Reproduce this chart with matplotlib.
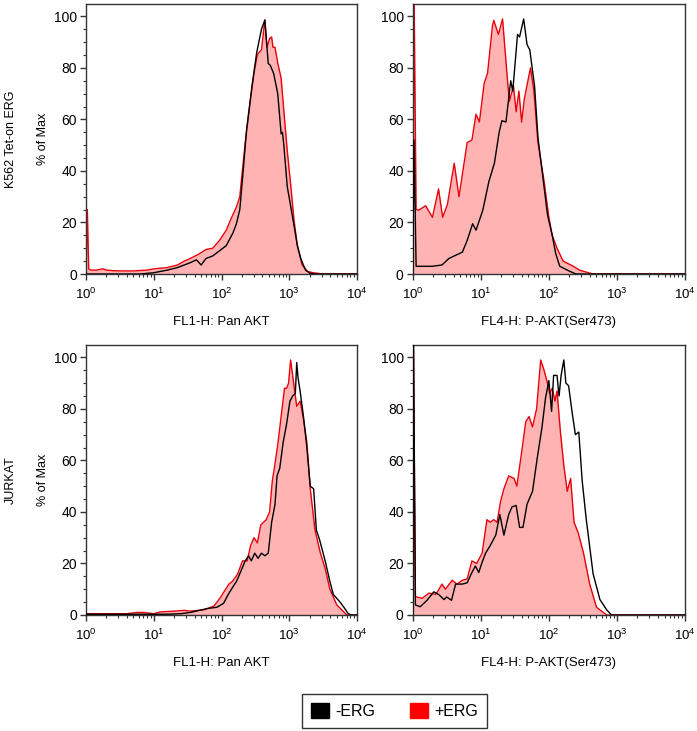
import numpy as np
import matplotlib
matplotlib.use("Agg")
import matplotlib.pyplot as plt
from matplotlib.patches import Patch
from matplotlib.ticker import MultipleLocator, LogLocator, NullFormatter

plt.rcParams['font.family'] = ['Liberation Sans', 'DejaVu Sans']
plt.rcParams['mathtext.fontset'] = 'custom'
plt.rcParams['mathtext.rm'] = 'Liberation Sans'

# posiciones en decadas (log10 del canal) y % of Max
# K562 Tet-on ERG, Pan AKT
k562_pan_red_x = [0.0, 0.02, 0.04, 0.07, 0.15, 0.25, 0.3, 0.4, 0.5, 0.7, 0.9, 1.0, 1.2, 1.35, 1.45, 1.53, 1.67,
                  1.77, 1.87, 1.97, 2.07, 2.15, 2.22, 2.27, 2.30, 2.35, 2.43, 2.48, 2.52, 2.54, 2.59, 2.64,
                  2.67, 2.71, 2.74, 2.76, 2.79, 2.83, 2.88, 2.92, 2.97, 3.02, 3.07, 3.12, 3.19, 3.27, 3.35, 3.5, 4.0]
k562_pan_red_y = [0, 25, 2, 1.5, 1.5, 2, 1.5, 1.3, 1.2, 1.2, 1.5, 2, 2.5, 3.5, 5, 5.9, 7.8,
                  9.5, 10, 13, 17, 22, 26, 30, 38, 51, 68, 78, 84, 85.6, 87, 98.6,
                  88, 91.4, 92, 88, 88, 82, 76, 63.5, 48, 35, 21, 11, 3.5, 1, 0.5, 0, 0]
k562_pan_blk_x = [0.0, 0.8, 1.0, 1.2, 1.35, 1.45, 1.53, 1.63, 1.70, 1.77, 1.87, 1.97, 2.07, 2.17, 2.22, 2.27,
                  2.32, 2.37, 2.45, 2.52, 2.59, 2.64, 2.69, 2.72, 2.77, 2.83, 2.88, 2.90, 2.92, 2.97, 3.02,
                  3.07, 3.12, 3.17, 3.24, 3.31, 3.4, 4.0]
k562_pan_blk_y = [0, 0, 0.5, 1.5, 2.5, 3.5, 4.3, 5.5, 3.5, 6, 7, 9, 11, 16, 19.5, 25,
                  40, 56, 73, 86, 95, 98.6, 81.7, 81, 77.8, 70, 54.4, 55, 50, 34, 26.5,
                  18.8, 11, 6, 1.5, 0.2, 0, 0]

# K562 Tet-on ERG, P-AKT(Ser473)
k562_pakt_red_x = [0.0, 0.02, 0.05, 0.09, 0.19, 0.29, 0.38, 0.44, 0.51, 0.61, 0.68, 0.80, 0.87, 0.93, 0.98,
                   1.05, 1.10, 1.17, 1.19, 1.26, 1.32, 1.39, 1.42, 1.45, 1.48, 1.52, 1.56, 1.60, 1.64, 1.73,
                   1.78, 1.84, 1.93, 2.00, 2.05, 2.12, 2.21, 2.36, 2.45, 2.58, 2.65, 4.0]
k562_pakt_red_y = [0, 110, 25, 24.8, 26.5, 22, 33, 22, 27, 43, 30, 51, 52, 62, 59,
                   74, 78, 96, 98.5, 93, 99, 76, 67, 70, 73, 63, 71, 59, 68, 80,
                   71, 51, 36, 22, 15, 10, 5, 3, 1.5, 0.5, 0, 0]
k562_pakt_blk_x = [0.0, 0.02, 0.05, 0.09, 0.29, 0.43, 0.53, 0.61, 0.73, 0.80, 0.88, 0.93, 1.03, 1.12, 1.20,
                   1.27, 1.31, 1.37, 1.44, 1.47, 1.54, 1.57, 1.63, 1.68, 1.72, 1.79, 1.84, 1.91, 1.98, 2.05,
                   2.10, 2.16, 2.31, 2.4, 4.0]
k562_pakt_blk_y = [0, 52, 3, 3, 3, 3.5, 6, 7, 8.5, 13, 19.5, 17, 24.8, 36, 43,
                   55, 59.5, 59, 75, 71, 93, 92, 99, 89, 87, 73, 53, 38, 23, 15,
                   8, 3, 1, 0, 0]

# JURKAT, Pan AKT
jurkat_pan_red_x = [0.0, 0.6, 0.75, 0.85, 1.0, 1.1, 1.3, 1.45, 1.54, 1.74, 1.89, 1.99, 2.06, 2.11, 2.16, 2.24,
                    2.31, 2.38, 2.43, 2.48, 2.53, 2.58, 2.66, 2.71, 2.75, 2.78, 2.83, 2.88, 2.93, 2.96, 2.99,
                    3.02, 3.06, 3.11, 3.16, 3.21, 3.26, 3.31, 3.38, 3.46, 3.53, 3.60, 3.70, 3.80, 3.85, 4.0]
jurkat_pan_red_y = [0.5, 0.5, 1, 1, 0.5, 1.2, 1.5, 1.8, 1.5, 2, 3.5, 7, 10, 12, 13, 16,
                    21, 21, 27, 30, 28, 35, 37, 40, 52, 57, 66, 77, 88, 88, 90,
                    99, 91, 81, 83, 76, 67, 49, 33, 24, 18, 10, 4, 1.3, 0, 0]
jurkat_pan_blk_x = [0.0, 1.2, 1.4, 1.54, 1.79, 1.93, 2.03, 2.10, 2.17, 2.22, 2.27, 2.35, 2.40, 2.44, 2.49,
                    2.54, 2.59, 2.64, 2.69, 2.74, 2.79, 2.82, 2.86, 2.91, 2.96, 3.01, 3.05, 3.09, 3.11,
                    3.13, 3.16, 3.21, 3.26, 3.31, 3.36, 3.40, 3.45, 3.53, 3.60, 3.65, 3.75, 3.82, 3.87, 3.92, 4.0]
jurkat_pan_blk_y = [0.3, 0.3, 0.5, 1, 2.5, 3, 4.5, 8, 11, 13, 16, 21, 23, 21, 24,
                    22, 24, 23, 24, 36, 43, 54, 57, 67, 74, 83, 85, 86, 98,
                    92, 87, 77, 65, 50, 49, 33, 29, 21, 13, 8, 5, 2.5, 0.5, 0, 0]

# JURKAT, P-AKT(Ser473)
jurkat_pakt_red_x = [0.0, 0.01, 0.04, 0.14, 0.24, 0.34, 0.43, 0.48, 0.58, 0.65, 0.73, 0.80, 0.87, 0.94, 1.02,
                     1.09, 1.14, 1.19, 1.24, 1.29, 1.34, 1.41, 1.49, 1.53, 1.61, 1.66, 1.71, 1.76, 1.82,
                     1.88, 1.93, 1.98, 2.01, 2.05, 2.09, 2.12, 2.17, 2.22, 2.27, 2.32, 2.37, 2.43, 2.51,
                     2.60, 2.70, 2.80, 2.85, 4.0]
jurkat_pakt_red_y = [0, 110, 7.1, 6.5, 8.5, 8, 12, 10, 13.5, 12, 13.5, 14, 21, 20, 24,
                     37, 36, 37, 36, 44, 49, 54, 53, 50, 65, 75, 77, 73, 80,
                     99, 95, 90, 86, 88, 83, 87, 71, 58, 48, 53, 36, 32, 24,
                     12, 3, 1, 0, 0]
jurkat_pakt_blk_x = [0.0, 0.01, 0.04, 0.11, 0.21, 0.31, 0.38, 0.46, 0.50, 0.57, 0.63, 0.73, 0.80, 0.87, 0.92,
                     0.97, 1.02, 1.07, 1.14, 1.22, 1.28, 1.34, 1.41, 1.46, 1.52, 1.57, 1.62, 1.68, 1.76,
                     1.83, 1.90, 1.95, 2.00, 2.04, 2.07, 2.12, 2.15, 2.18, 2.22, 2.25, 2.29, 2.34, 2.39,
                     2.44, 2.49, 2.55, 2.65, 2.75, 2.85, 2.92, 4.0]
jurkat_pakt_blk_y = [0, 110, 3.9, 3.2, 5.7, 9, 8, 6, 7, 5.7, 12, 12, 12.5, 16.5, 19,
                     16.5, 20.5, 24, 27, 31, 39, 31, 39, 42, 42.5, 34, 34, 43, 48,
                     61, 73, 84, 91, 79, 93, 93, 85, 93, 99, 90, 89, 79, 70,
                     71, 52, 37, 16, 6, 2, 0, 0]

row_labels = ['K562 Tet-on ERG', 'JURKAT']
x_labels = ['FL1-H: Pan AKT', 'FL4-H: P-AKT(Ser473)']
legend_labels = ['-ERG', '+ERG']

paneles = [
    [(k562_pan_red_x, k562_pan_red_y, k562_pan_blk_x, k562_pan_blk_y),
     (k562_pakt_red_x, k562_pakt_red_y, k562_pakt_blk_x, k562_pakt_blk_y)],
    [(jurkat_pan_red_x, jurkat_pan_red_y, jurkat_pan_blk_x, jurkat_pan_blk_y),
     (jurkat_pakt_red_x, jurkat_pakt_red_y, jurkat_pakt_blk_x, jurkat_pakt_blk_y)],
]

W, H = 697, 731
fig = plt.figure(figsize=(W / 100, H / 100), dpi=100)

# cajas de los ejes en pixeles: (izquierda, arriba, ancho, alto)
lefts = [86, 412.7]
tops = [4, 345]
anchos = [271, 272.3]

rojo = '#e8000b'
relleno = '#ffb3b3'

for i in range(2):
    for j in range(2):
        rx, ry, bx, by = paneles[i][j]
        ax = fig.add_axes([lefts[j] / W, 1 - (tops[i] + 270) / H, anchos[j] / W, 270 / H])
        rx = 10 ** np.array(rx)
        bx = 10 ** np.array(bx)
        ax.fill_between(rx, 0, ry, color=relleno, lw=0, zorder=1)
        ax.plot(rx, ry, color=rojo, lw=1.0, zorder=2)
        ax.plot(bx, by, color='black', lw=1.0, zorder=3)
        ax.set_xscale('log')
        ax.set_xlim(1, 1e4)
        ax.set_ylim(0, 104.8)
        ax.yaxis.set_major_locator(MultipleLocator(20))
        ax.yaxis.set_minor_locator(MultipleLocator(5))
        ax.xaxis.set_major_locator(LogLocator(base=10, numticks=10))
        ax.xaxis.set_minor_locator(LogLocator(base=10, subs=np.arange(2, 10), numticks=10))
        ax.xaxis.set_minor_formatter(NullFormatter())
        ax.tick_params(axis='both', which='major', direction='out', length=4, width=1, color='#333333')
        ax.tick_params(axis='both', which='minor', direction='out', length=2.5, width=0.8, color='#333333')
        ax.tick_params(axis='y', labelsize=10, pad=2.5)
        ax.tick_params(axis='x', labelsize=9.5, pad=5)
        for s in ax.spines.values():
            s.set_color('#333333')
            s.set_linewidth(1.0)
        ax.set_xlabel(x_labels[j], fontsize=9.5, labelpad=10)
        if j == 0:
            yc = 1 - (tops[i] + 135) / H
            fig.text(43 / W, yc, '% of Max', rotation=90, ha='center', va='center', fontsize=9)
            fig.text(11 / W, yc, row_labels[i], rotation=90, ha='center', va='center', fontsize=9)

handles = [Patch(facecolor='black', edgecolor='black'), Patch(facecolor='#ff0000', edgecolor='#ff0000')]
fig.legend(handles, legend_labels, loc='center', bbox_to_anchor=(394.5 / W, 1 - 711 / H), ncol=2,
           fontsize=11.5, frameon=True, fancybox=False, edgecolor='#333333', framealpha=1,
           handlelength=1.1, handleheight=1.1, handletextpad=0.4, columnspacing=2.2, borderpad=0.55)

fig.savefig('out.png', dpi=100)
